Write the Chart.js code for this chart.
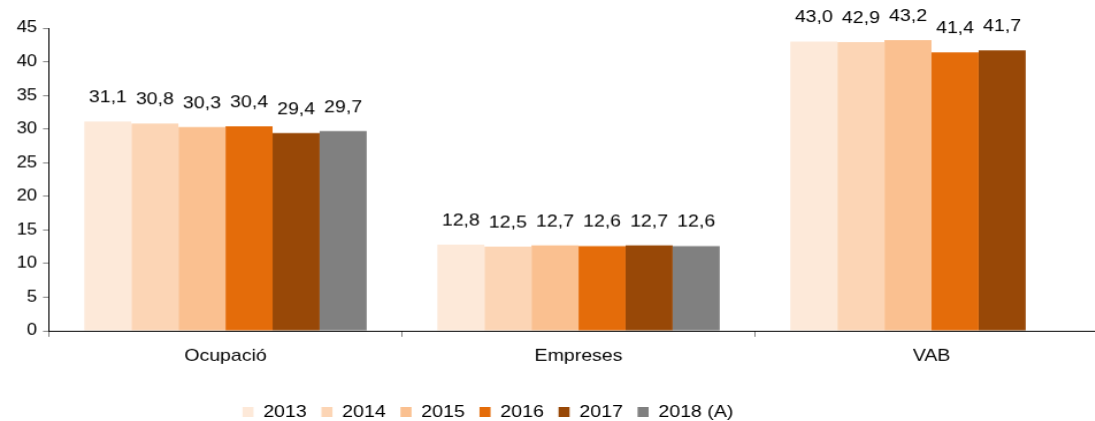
<!DOCTYPE html>
<html>
<head>
<meta charset="utf-8">
<script src="https://cdn.jsdelivr.net/npm/chart.js@4.4.0/dist/chart.umd.min.js"></script>
<style>
  html, body { margin: 0; padding: 0; background: #fff; overflow: hidden; width: 1095px; height: 421px; }
  /* the original picture is a bit stretched sideways, so draw narrower and widen it */
  #wrap { width: 965px; height: 429.5px; position: relative; transform: scaleX(1.15); transform-origin: 0 0; }
</style>
</head>
<body>
<div id="wrap"><canvas id="chart"></canvas></div>
<script>
// DATA
const categories = ["Ocupació", "Empreses", "VAB"];
const years = ["2013", "2014", "2015", "2016", "2017", "2018 (A)"];
const v2013 = [31.1, 12.8, 43.0];
const v2014 = [30.8, 12.5, 42.9];
const v2015 = [30.3, 12.7, 43.2];
const v2016 = [30.4, 12.6, 41.4];
const v2017 = [29.4, 12.7, 41.7];
const v2018 = [29.7, 12.6, null];
const yTicks = [0, 5, 10, 15, 20, 25, 30, 35, 40, 45];

const seriesValues = [v2013, v2014, v2015, v2016, v2017, v2018];
const colors = ["#FDE9D9", "#FCD5B5", "#FAC090", "#E46C0A", "#984807", "#808080"];

const FONT = "'Liberation Sans', Arial, sans-serif";
const INK = "#000";

// VALUE LABELS ABOVE BARS
const valueLabels = {
  id: "valueLabels",
  afterDatasetsDraw(chart) {
    const ctx = chart.ctx;
    ctx.save();
    ctx.font = "17px " + FONT;
    ctx.fillStyle = INK;
    ctx.textAlign = "center";
    ctx.textBaseline = "alphabetic";
    chart.data.datasets.forEach((ds, i) => {
      const meta = chart.getDatasetMeta(i);
      meta.data.forEach((bar, j) => {
        const v = ds.data[j];
        if (v === null || v === undefined) return;
        ctx.fillText(v.toFixed(1).replace(".", ","), bar.x, bar.y - 19);
      });
    });
    ctx.restore();
  }
};

// LEGEND SITS LEFT OF CENTRE IN THE ORIGINAL
const legendShift = {
  id: "legendShift",
  afterLayout(chart) {
    if (!chart.legend) return;
    chart.legend.left -= 57.5;
    chart.legend.right -= 57.5;
  }
};

new Chart(document.getElementById("chart"), {
  type: "bar",
  data: {
    labels: categories,
    datasets: years.map((y, i) => ({
      label: y,
      data: seriesValues[i],
      backgroundColor: colors[i],
      borderWidth: 0,
      categoryPercentage: 0.8,
      barPercentage: 1.0
    }))
  },
  options: {
    responsive: true,
    maintainAspectRatio: false,
    animation: false,
    layout: { padding: { top: 28, right: 1.5, left: 0, bottom: 0 } },
    plugins: {
      legend: {
        position: "bottom",
        labels: {
          boxWidth: 9.6,
          boxHeight: 10,
          padding: 12.8,
          color: INK,
          font: { size: 17, family: FONT }
        }
      },
      tooltip: { enabled: false }
    },
    scales: {
      y: {
        min: 0,
        max: 45,
        afterFit(scale) { scale.width = 42.6; },
        afterBuildTicks(scale) { scale.ticks = yTicks.map(v => ({ value: v })); },
        border: { color: "#000", width: 1 },
        grid: { drawOnChartArea: false, drawTicks: true, tickLength: 5.2, color: "#808080" },
        ticks: { padding: 5.2, color: INK, font: { size: 16, family: FONT } }
      },
      x: {
        afterFit(scale) { scale.height = 59.7; },
        border: { color: "#000", width: 1 },
        grid: { offset: true, drawOnChartArea: false, drawTicks: true, tickLength: 6, color: "#808080" },
        ticks: { padding: 8.8, color: INK, font: { size: 17, family: FONT } }
      }
    }
  },
  plugins: [valueLabels, legendShift]
});
</script>
</body>
</html>
